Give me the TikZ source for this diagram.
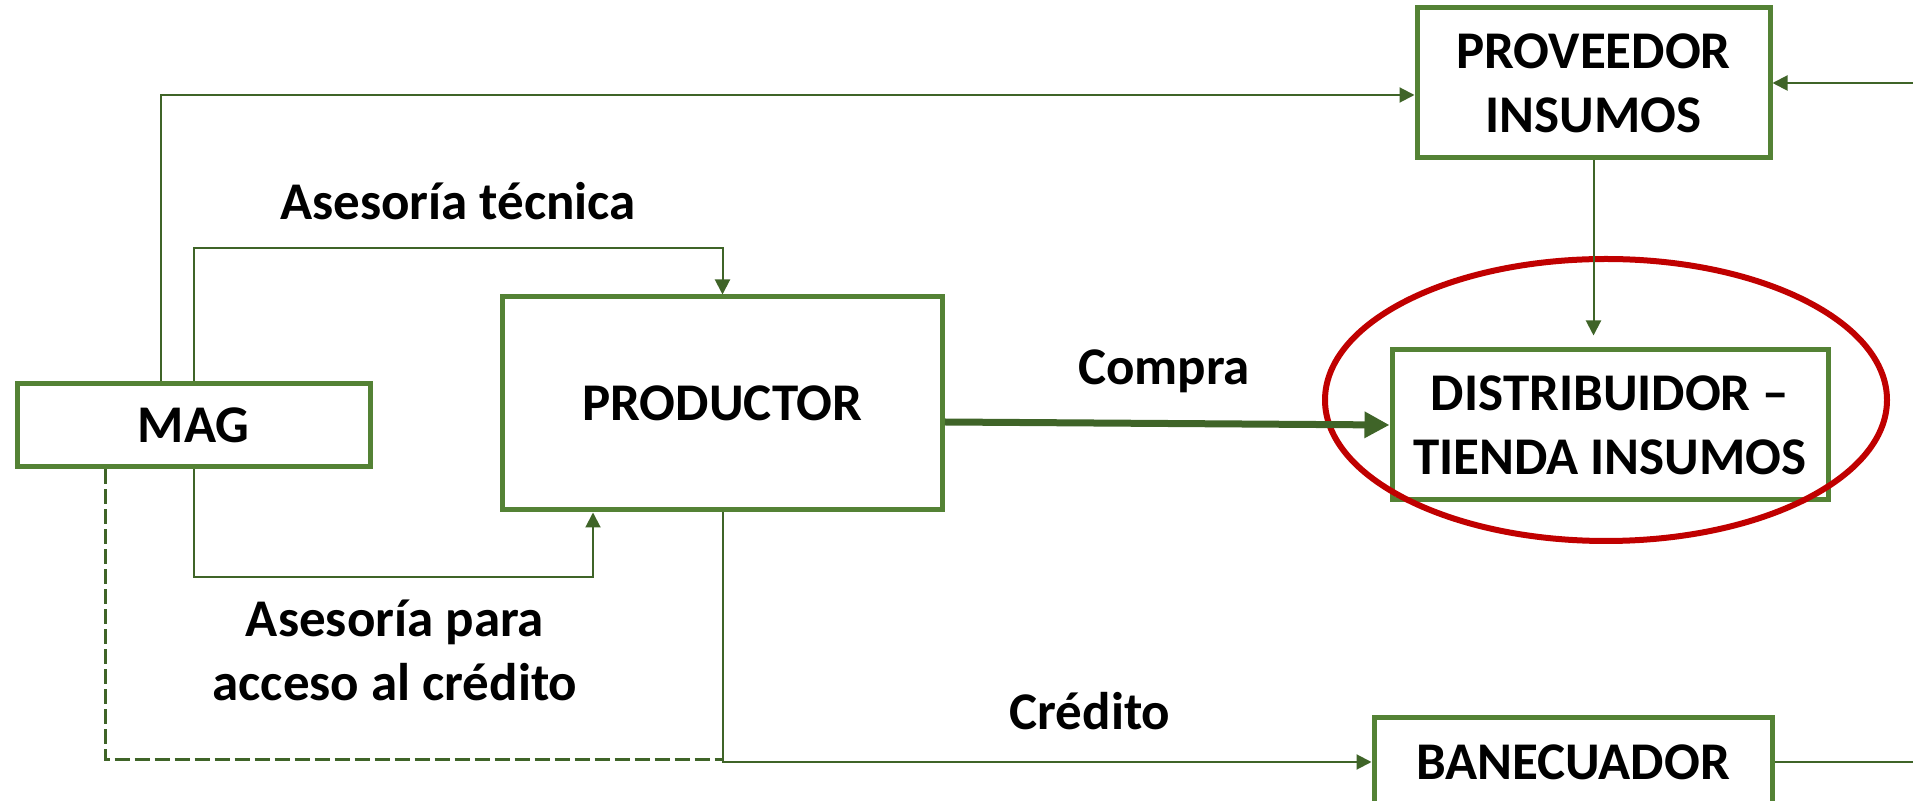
\documentclass[tikz,border=0pt]{standalone}
\usepackage{fontspec}
\setmainfont{Carlito}
\usetikzlibrary{arrows.meta}
\definecolor{boxgreen}{HTML}{548235}
\definecolor{linegreen}{HTML}{3F6428}
\definecolor{ringred}{HTML}{C00000}
\tikzstyle{actor}=[draw=boxgreen, line width=2.5pt, fill=white, align=center, inner sep=0pt, font=\bfseries\fontsize{26.5}{32}\selectfont]
\tikzstyle{flowtext}=[align=center, inner sep=0pt, font=\bfseries\fontsize{26.5}{32}\selectfont]
\tikzstyle{flow}=[draw=linegreen, line width=1pt, -{Triangle[length=7.5pt, width=7.5pt]}]
\tikzstyle{link}=[draw=linegreen, line width=1pt]
\tikzstyle{buy}=[draw=linegreen, line width=3.5pt, -{Triangle[length=12.5pt, width=12.5pt]}]

\begin{document}
\begin{tikzpicture}[x=0.5pt, y=-0.5pt]
				\useasboundingbox (0,0) rectangle (1913,801);

				\coordinate (topbend) at (161,95);
				\coordinate (tecline) at (0,248);
				\coordinate (credline) at (0,577);
				\coordinate (credup) at (593,0);
				\coordinate (dashx) at (105,0);
				\coordinate (bankline) at (0,760);
				\coordinate (rightedge) at (1913,0);

				\node[actor, minimum width=176.5pt, minimum height=41.5pt] (mag) at (193.5,425.5) {MAG};
				\node[actor, minimum width=220pt, minimum height=106.5pt] (productor) at (722.5,403.5) {PRODUCTOR};
				\node[actor, minimum width=176.5pt, minimum height=75pt] (proveedor) at (1593.5,83) {PROVEEDOR\\INSUMOS};
				\node[actor, minimum width=218pt, minimum height=75pt] (distribuidor) at (1610,425) {DISTRIBUIDOR –\\TIENDA INSUMOS};
				\node[actor, minimum width=199pt, minimum height=44pt] (banecuador) at (1573,762) {BANECUADOR};

				\draw[ringred, line width=3pt] (1606,400) ellipse [x radius=140.5pt, y radius=70.5pt];

				\draw[flow] (mag.north -| topbend) -- (topbend) -- (topbend -| proveedor.west);
				\draw[flow] (mag.north) -- (mag.north |- tecline) -- (productor.north |- tecline) -- (productor.north);
				\draw[flow] (mag.south) -- (mag.south |- credline) -- (credup |- credline) -- (credup |- productor.south);
				\draw[link, line width=1.5pt, dash pattern=on 7.5pt off 2.5pt] (dashx |- mag.south) -- (dashx |- bankline) -- (productor.south |- bankline);
				\draw[flow] (productor.south) |- (banecuador.west);
				\draw[link] (banecuador.east) -- (banecuador.east -| rightedge);
				\draw[flow] (proveedor.east -| rightedge) -- (proveedor.east);
				\draw[flow, shorten >=6pt] (proveedor.south) -- (distribuidor.north -| proveedor.south);
				\draw[buy] ([yshift=-9.25pt]productor.east) -- (distribuidor.west);

				\node[flowtext] (tecnica) at (458,201) {Asesoría técnica};
				\node[flowtext, anchor=base] (compra) at (1164,385) {Compra};
				\node[flowtext] (acceso) at (395,650) {Asesoría para\\acceso al crédito};
				\node[flowtext, anchor=base] (credito) at (1090,730) {Crédito};
			\end{tikzpicture}
\end{document}
